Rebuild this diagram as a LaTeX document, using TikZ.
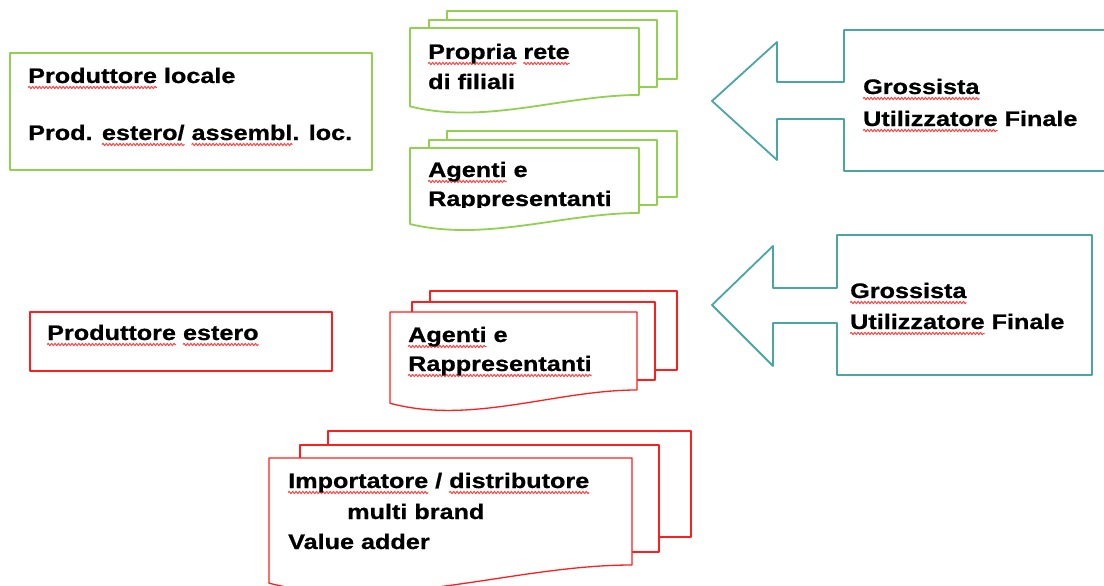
\documentclass[tikz,border=0pt]{standalone}
\usepackage{fontspec}
\setmainfont{Liberation Sans}[FakeStretch=1.2,BoldFeatures={FakeBold=0.8}]
\usetikzlibrary{decorations.pathmorphing}

\definecolor{docgreen}{RGB}{146,208,80}
\definecolor{docred}{RGB}{255,30,30}
\definecolor{arrowteal}{RGB}{75,165,165}
\definecolor{spellred}{RGB}{255,70,70}

% wavy red line under a word
\newlength\spellwd
\newcommand\spell[1]{%
  \settowidth\spellwd{#1}%
  \rlap{\tikz[overlay,baseline=0pt]\draw[spellred,line width=1pt,decorate,
    decoration={snake,amplitude=1.2pt,segment length=3.4pt}] (0pt,-4.5pt) -- (\spellwd,-4.5pt);}#1}

% page with a wavy lower edge: left, top, right, bottom
\newcommand\docpage[4]{%
  (#1,#2) -- (#3,#2) -- (#3,#4)
  .. controls ({#1+0.67*(#3-#1)},#4) and ({#1+0.33*(#3-#1)},{#4+0.45*(#4-#2)})
  .. (#1,{#4+0.17*(#4-#2)}) -- cycle
}

\begin{document}
\begin{tikzpicture}[x=1pt,y=-1pt,line join=round,
  txt/.style={anchor=base west,inner sep=0pt,font=\bfseries\fontsize{21}{25}\selectfont},
  greenline/.style={draw=docgreen,line width=1.8pt,fill=white},
  redline/.style={draw=docred,line width=1.3pt,fill=white},
  tealline/.style={draw=arrowteal,line width=1.8pt}]
\useasboundingbox (0,0) rectangle (1104,586);

% local producers
\draw[greenline] (10,53) rectangle (372,170);
\node[txt] (loc1) at (28,83) {\spell{Produttore} locale};
\node[txt] (loc2) at (28,140) {Prod. \spell{estero/} \spell{assembl}. loc.};

\draw[greenline] (447,11) rectangle (677,79);
\draw[greenline] (429,20) rectangle (657,87);
\filldraw[greenline] \docpage{410}{28}{639}{95};
\node[txt] (rete1) at (428,59) {\spell{Propria} \spell{rete}};
\node[txt] (rete2) at (428,89) {di filiali};

\draw[greenline] (447,131) rectangle (677,197);
\draw[greenline] (429,140) rectangle (657,205);
\filldraw[greenline] \docpage{410}{148}{639}{213};
\node[txt] (agg1) at (428,177) {\spell{Agenti} e};
\begin{scope}
  \clip (405,150) rectangle (645,207.5);
  \node[txt] (agg2) at (428,206) {Rappresentanti};
\end{scope}

\draw[tealline] (712,101) -- (777,42) -- (777,82) -- (844,82) -- (844,30)
  -- (1112,30) -- (1112,171) -- (844,171) -- (844,119) -- (777,119) -- (777,160) -- cycle;
\node[txt] (ga1) at (863,94) {\spell{Grossista}};
\node[txt] (ga2) at (863,126) {\spell{Utilizzatore} Finale};

% foreign producer
\draw[redline] (30,312) rectangle (332,371);
\node[txt] (est) at (47,340) {\spell{Produttore} \spell{estero}};

\draw[redline] (430,291) rectangle (677,370);
\draw[redline] (412,302) rectangle (655,380);
\filldraw[redline] \docpage{390}{312}{637}{390};
\node[txt] (agr1) at (408,342) {\spell{Agenti} e};
\node[txt] (agr2) at (408,371) {\spell{Rappresentanti}};

\draw[redline] (328,431) rectangle (691,537);
\draw[redline] (300,445) rectangle (659,552);
\filldraw[redline] \docpage{269}{458}{632}{565};
\node[txt] (imp1) at (288,488) {\spell{Importatore} / \spell{distributore}};
\node[txt] (imp2) at (347,519) {multi brand};
\node[txt] (imp3) at (288,549) {Value adder};

\draw[tealline] (712,305) -- (773,246) -- (773,288) -- (837,288) -- (837,235)
  -- (1092,235) -- (1092,375) -- (837,375) -- (837,323) -- (773,323) -- (773,366) -- cycle;
\node[txt] (gb1) at (850,298) {\spell{Grossista}};
\node[txt] (gb2) at (850,329) {\spell{Utilizzatore} Finale};
\end{tikzpicture}
\end{document}
